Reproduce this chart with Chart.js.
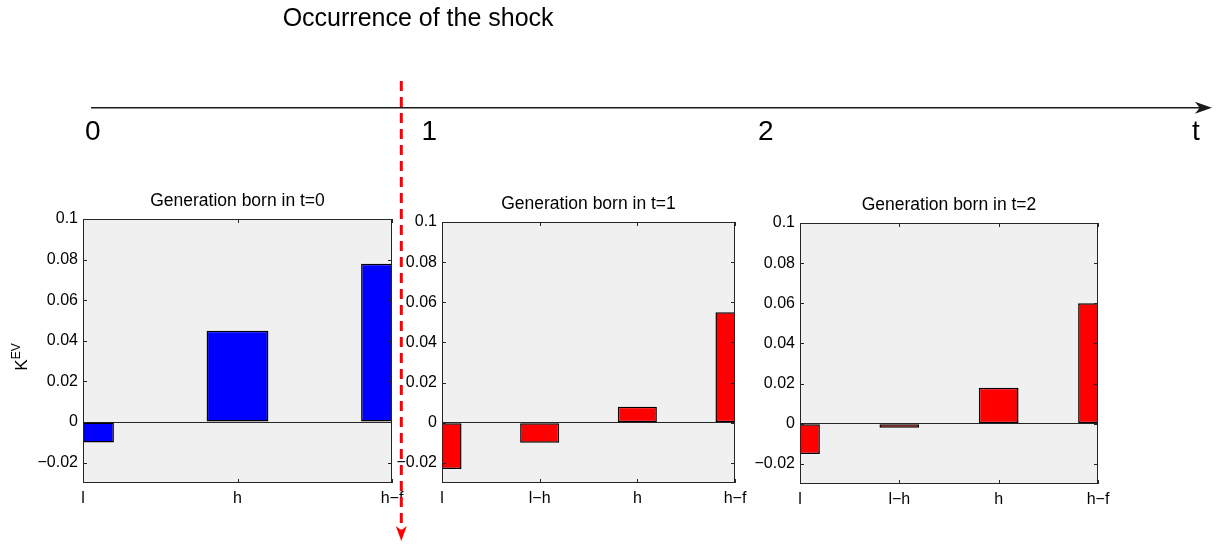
<!DOCTYPE html>
<html>
<head>
<meta charset="utf-8">
<script src="https://cdn.jsdelivr.net/npm/chart.js@4.4.1/dist/chart.umd.min.js"></script>
<style>
  html, body { margin: 0; padding: 0; background: #fff; }
  #page { position: relative; width: 1227px; height: 547px; overflow: hidden; }
  #page canvas { position: absolute; }
  #overlay { left: 0; top: 0; z-index: 5; pointer-events: none; }
</style>
</head>
<body>
<div id="page">
  <canvas id="gen0"></canvas>
  <canvas id="gen1"></canvas>
  <canvas id="gen2"></canvas>
  <canvas id="overlay" width="1227" height="547"></canvas>
</div>
<script>
// values
const labelsGen0 = ['l', 'h', 'h\u2212f'];
const labelsGen12 = ['l', 'l\u2212h', 'h', 'h\u2212f'];
const kevGen0 = [-0.010, 0.045, 0.078];
const kevGen1 = [-0.023, -0.010, 0.008, 0.055];
const kevGen2 = [-0.015, -0.002, 0.018, 0.060];
const yTicks = [-0.02, 0, 0.02, 0.04, 0.06, 0.08, 0.1];
const yMin = -0.03, yMax = 0.1;

// time line on top
const timeTicks = [0, 1, 2];
const timeTickLabels = ['0', '1', '2'];
const timeEndLabel = 't';
const shockTime = 0.94;
const shockTitle = 'Occurrence of the shock';

// layout (page pixels / page fractions)
const tMin = -0.2526, tMax = 3.3938;
const lineStart = 0.018, lineEnd = 3.349, tLabelAt = 3.29;
const lineY = 0.197, labelBaseY = 0.256, titleBaseY = 0.0475, titleAt = 0.99;
const shockTop = 0.148, shockEnd = 0.968, shockTip = 0.989;

const FONT = '"Liberation Sans", Arial, Helvetica, sans-serif';
Chart.defaults.font.family = FONT;
Chart.defaults.color = '#000';

function fmtTick(v) {
  if (Math.abs(v) < 1e-9) return '0';
  return String(+v.toFixed(2)).replace('-', '\u2212');
}

const axesBox = {
  id: 'axesBox',
  beforeDraw(chart) {
    const { ctx, chartArea: a } = chart;
    ctx.save();
    ctx.fillStyle = '#f0f0f0';
    ctx.fillRect(a.left, a.top, a.right - a.left, a.bottom - a.top);
    ctx.restore();
  },
  afterDatasetsDraw(chart, args, opts) {
    const { ctx, chartArea: a, scales: { x, y } } = chart;
    ctx.save();
    ctx.strokeStyle = '#262626';
    ctx.lineWidth = 1;
    ctx.strokeRect(a.left + 0.5, a.top + 0.5, a.right - a.left - 1, a.bottom - a.top - 1);
    ctx.beginPath();
    y.ticks.forEach((t, i) => {
      const py = Math.round(y.getPixelForTick(i)) + 0.5;
      ctx.moveTo(a.left, py); ctx.lineTo(a.left + 4, py);
      ctx.moveTo(a.right, py); ctx.lineTo(a.right - 4, py);
    });
    x.ticks.forEach((t, i) => {
      const px = Math.round(x.getPixelForTick(i)) + 0.5;
      ctx.moveTo(px, a.bottom); ctx.lineTo(px, a.bottom - 4);
      ctx.moveTo(px, a.top); ctx.lineTo(px, a.top + 4);
    });
    ctx.stroke();

    if (opts.yTitle) {
      // K^EV, rotated
      const cx = a.left - 56, cy = (a.top + a.bottom) / 2 + 6;
      ctx.translate(cx, cy);
      ctx.rotate(-Math.PI / 2);
      ctx.fillStyle = '#000';
      ctx.textAlign = 'left';
      ctx.textBaseline = 'alphabetic';
      ctx.font = '17px ' + FONT;
      const wK = ctx.measureText('K').width;
      ctx.font = '12px ' + FONT;
      const wE = ctx.measureText('EV').width;
      const start = -(wK + wE) / 2;
      ctx.font = '17px ' + FONT;
      ctx.fillText('K', start, 0);
      ctx.font = '12px ' + FONT;
      ctx.fillText('EV', start + wK, -7);
    }
    ctx.restore();
  }
};

function makePanel(id, box, title, labels, values, color, yTitle) {
  const canvas = document.getElementById(id);
  const padL = 80, padR = 30, padT = 40, padB = 35;
  canvas.width = box.right - box.left + padL + padR;
  canvas.height = box.bottom - box.top + padT + padB;
  canvas.style.left = (box.left - padL) + 'px';
  canvas.style.top = (box.top - padT) + 'px';

  return new Chart(canvas, {
    type: 'bar',
    data: {
      labels,
      datasets: [{
        data: values,
        backgroundColor: color,
        borderColor: '#000',
        borderWidth: 1.5,
        borderSkipped: false,
        categoryPercentage: 0.4,
        barPercentage: 1,
        clip: 0
      }]
    },
    options: {
      responsive: false,
      animation: false,
      events: [],
      layout: { padding: { left: 0, right: padR, top: 0, bottom: 0 } },
      plugins: {
        legend: { display: false },
        tooltip: { enabled: false },
        title: {
          display: true, text: title, fullSize: false, color: '#000',
          font: { size: 17.5, weight: 'normal' },
          padding: { top: 12, bottom: 7 }
        },
        axesBox: { yTitle }
      },
      scales: {
        x: {
          type: 'category',
          offset: false,
          grid: { display: false, drawTicks: false },
          border: { display: false },
          ticks: { padding: 6, autoSkip: false, maxRotation: 0, font: { size: 16 }, color: '#000' },
          afterFit: s => { s.height = padB; }
        },
        y: {
          type: 'linear',
          min: yMin,
          max: yMax,
          afterBuildTicks: s => { s.ticks = yTicks.map(v => ({ value: v })); },
          grid: {
            drawTicks: false,
            lineWidth: 1,
            color: c => (c.tick && Math.abs(c.tick.value) < 1e-9) ? '#262626' : 'rgba(0,0,0,0)'
          },
          border: { display: false },
          ticks: { padding: 5, font: { size: 16 }, color: '#000', callback: v => fmtTick(v) },
          afterFit: s => { s.width = padL; }
        }
      }
    },
    plugins: [axesBox]
  });
}

makePanel('gen0', { left: 83, top: 219, right: 392, bottom: 483 }, 'Generation born in t=0', labelsGen0, kevGen0, '#0000ff', true);
makePanel('gen1', { left: 442, top: 222, right: 735, bottom: 483 }, 'Generation born in t=1', labelsGen12, kevGen1, '#ff0000', false);
makePanel('gen2', { left: 800, top: 223, right: 1098, bottom: 484 }, 'Generation born in t=2', labelsGen12, kevGen2, '#ff0000', false);

function arrowHead(ctx, tx, ty, dx, dy, len, half, color) {
  const px = -dy, py = dx;
  ctx.beginPath();
  ctx.moveTo(tx, ty);
  ctx.lineTo(tx - dx * len + px * half, ty - dy * len + py * half);
  ctx.lineTo(tx - dx * len * 0.72, ty - dy * len * 0.72);
  ctx.lineTo(tx - dx * len - px * half, ty - dy * len - py * half);
  ctx.closePath();
  ctx.fillStyle = color;
  ctx.fill();
}

const timeline = {
  id: 'timeline',
  afterDatasetsDraw(chart) {
    const { ctx, scales: { x, y } } = chart;
    ctx.save();
    arrowHead(ctx, x.getPixelForValue(lineEnd), y.getPixelForValue(lineY), 1, 0, 17, 6, '#1a1a1a');
    arrowHead(ctx, x.getPixelForValue(shockTime), y.getPixelForValue(shockTip), 0, 1, 15, 5.5, '#ff0000');

    ctx.fillStyle = '#000';
    ctx.textBaseline = 'alphabetic';
    ctx.textAlign = 'left';
    ctx.font = '28px ' + FONT;
    timeTicks.forEach((t, i) => {
      ctx.fillText(timeTickLabels[i], x.getPixelForValue(t), y.getPixelForValue(labelBaseY));
    });
    ctx.fillText(timeEndLabel, x.getPixelForValue(tLabelAt), y.getPixelForValue(labelBaseY));

    ctx.textAlign = 'center';
    ctx.font = '25px ' + FONT;
    ctx.fillText(shockTitle, x.getPixelForValue(titleAt), y.getPixelForValue(titleBaseY));
    ctx.restore();
  }
};

new Chart(document.getElementById('overlay'), {
  type: 'line',
  data: {
    datasets: [
      {
        data: [{ x: lineStart, y: lineY }, { x: lineEnd - 0.01, y: lineY }],
        borderColor: '#1a1a1a', borderWidth: 1.4, pointRadius: 0, tension: 0
      },
      {
        data: [{ x: shockTime, y: shockTop }, { x: shockTime, y: shockEnd }],
        borderColor: '#ff0000', borderWidth: 3, borderDash: [10, 6], pointRadius: 0, tension: 0
      }
    ]
  },
  options: {
    responsive: false,
    animation: false,
    events: [],
    layout: { padding: 0 },
    plugins: { legend: { display: false }, tooltip: { enabled: false } },
    scales: {
      x: { type: 'linear', min: tMin, max: tMax, display: false },
      y: { type: 'linear', min: 0, max: 1, reverse: true, display: false }
    }
  },
  plugins: [timeline]
});
</script>
</body>
</html>
